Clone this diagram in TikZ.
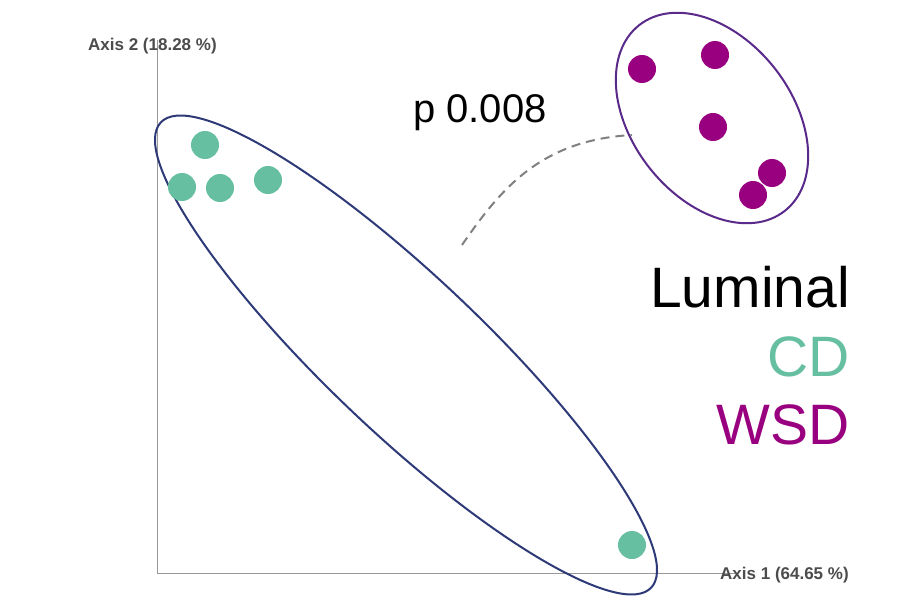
\documentclass[tikz,border=0pt]{standalone}
\usepackage{fontspec}
\setmainfont{Liberation Sans}
\definecolor{cdc}{HTML}{66BFA0}
\definecolor{wsdc}{HTML}{990080}
\definecolor{ellb}{HTML}{2E3A78}
\definecolor{ellp}{HTML}{5A2A8A}
\begin{document}
\begin{tikzpicture}[x=1pt,y=-1pt,
  cdpt/.style={circle,fill=cdc,inner sep=0pt,minimum size=28pt},
  wsdpt/.style={circle,fill=wsdc,inner sep=0pt,minimum size=28pt},
  axis/.style={draw=gray!80,line width=1pt},
  axlab/.style={font=\fontsize{17}{17}\selectfont\bfseries,text=black!70,inner sep=0pt}]
\useasboundingbox (0,0) rectangle (902,610);
\fill[white] (0,0) rectangle (902,610);
\coordinate (o) at (157,573);
\coordinate (ytop) at (157,40);
\coordinate (xend) at (735,573);
\draw[axis] (ytop) -- (o) -- (xend);
\node[axlab,anchor=west] (yl) at (88,46) {Axis 2 (18.28 \%)};
\node[axlab,anchor=west] (xl) at (720,575) {Axis 1 (64.65 \%)};
\draw[ellb,line width=2pt,rotate around={-43.5:(406,355)}] (406,355) ellipse [x radius=338pt,y radius=78pt];
\draw[ellp,line width=2pt,rotate around={-52:(712,118)}] (712,118) ellipse [x radius=118pt,y radius=80pt];
\node[cdpt] (c1) at (205,145) {};
\node[cdpt] (c2) at (182,187) {};
\node[cdpt] (c3) at (220,188) {};
\node[cdpt] (c4) at (268,180) {};
\node[cdpt] (c5) at (632,545) {};
\node[wsdpt] (w1) at (642,69) {};
\node[wsdpt] (w2) at (715,55) {};
\node[wsdpt] (w3) at (713,127) {};
\node[wsdpt] (w4) at (772,173) {};
\node[wsdpt] (w5) at (753,195) {};
\coordinate (da) at (462,245);
\coordinate (db) at (632,135);
\draw[gray,line width=2pt,dash pattern=on 9pt off 6pt] (da) .. controls (500,190) and (540,140) .. (db);
\node[font=\fontsize{40}{40}\selectfont,inner sep=0pt] (p) at (480,113) {p 0.008};
\node[font=\fontsize{57}{57}\selectfont,anchor=east,inner sep=0pt] (lum) at (850,287) {Luminal};
\node[font=\fontsize{57}{57}\selectfont,anchor=east,inner sep=0pt,text=cdc] (cd) at (850,357) {CD};
\node[font=\fontsize{57}{57}\selectfont,anchor=east,inner sep=0pt,text=wsdc] (wsd) at (850,425) {WSD};
\end{tikzpicture}
\end{document}
